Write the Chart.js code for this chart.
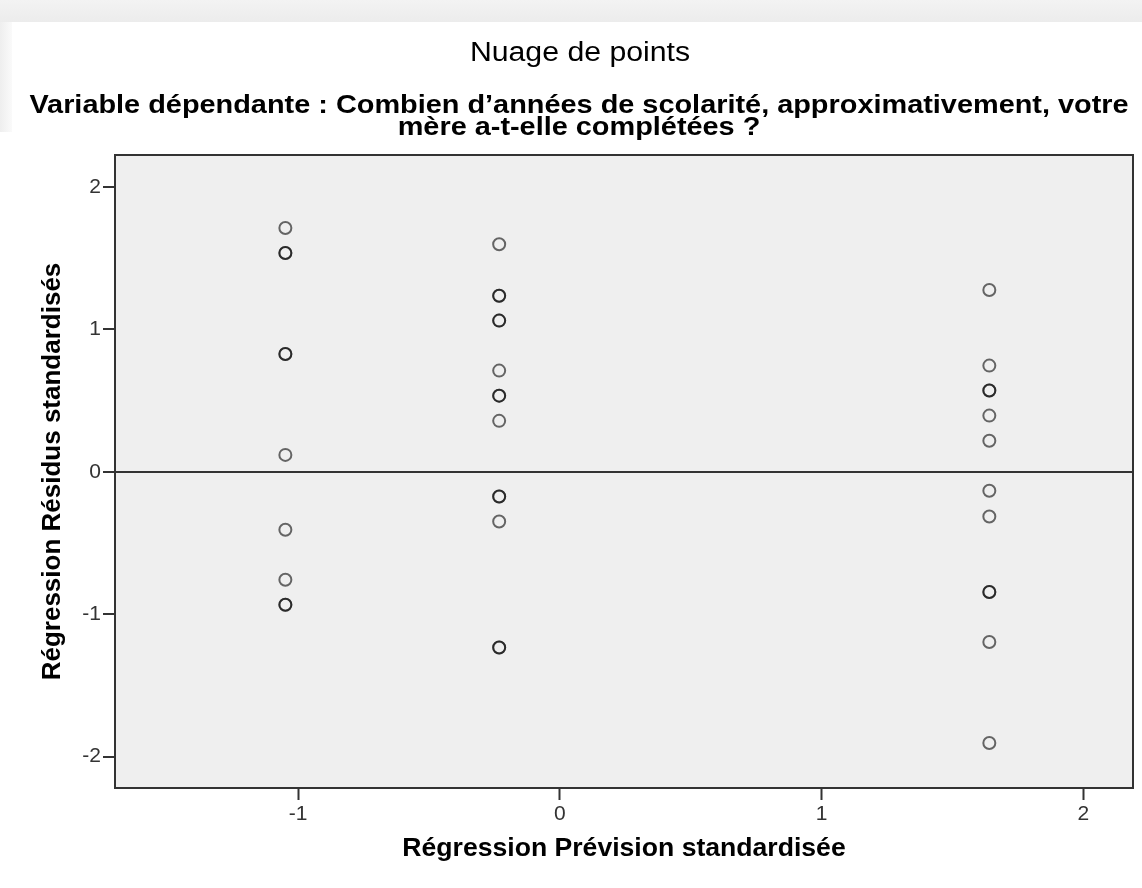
<!DOCTYPE html>
<html lang="fr">
<head>
<meta charset="utf-8">
<title>Nuage de points</title>
<script src="https://cdn.jsdelivr.net/npm/chart.js@4.4.0/dist/chart.umd.min.js"></script>
<style>
  html,body{margin:0;padding:0;background:#fff;}
  #wrap{position:relative;width:1142px;height:888px;}
  #band{position:absolute;left:0;top:0;width:1142px;height:22px;background:linear-gradient(#f3f3f3,#ececec);}
  #side{position:absolute;left:0;top:22px;width:12px;height:110px;background:linear-gradient(90deg,#eeeeee,#fafafa);}
  canvas{position:absolute;left:0;top:0;}
</style>
</head>
<body>
<div id="wrap">
  <div id="band"></div><div id="side"></div>
  <canvas id="scatter" width="1142" height="888"></canvas>
</div>
<script>
/* Nuage de points – résidus standardisés vs prévision standardisée */

/* ---------- Data ---------- */
const predX  = [-1.049, -0.232, 1.641];           // Régression Prévision standardisée (3 groupes)
const residA = [1.712, 1.537, 1.537, 0.828, 0.828, 0.119, -0.407, -0.758, -0.933, -0.933];
const residB = [1.598, 1.237, 1.237, 1.062, 1.062, 0.711, 0.535, 0.535, 0.358, -0.173, -0.173, -0.349, -1.233, -1.233];
const residC = [1.277, 0.746, 0.571, 0.571, 0.395, 0.218, -0.133, -0.314, -0.844, -0.844, -1.195, -1.904];
const xTicks = [-1, 0, 1, 2];
const yTicks = [-2, -1, 0, 1, 2];

const titleText = 'Nuage de points';
const subLines  = ['Variable dépendante : Combien d\u2019années de scolarité, approximativement, votre',
                   'mère a-t-elle complétées ?'];
const xTitle = 'Régression Prévision standardisée';
const yTitle = 'Régression Résidus standardisés';

/* ---------- Helpers ---------- */
const FONT = '"Liberation Sans", Arial, sans-serif';
const points = [];
[residA, residB, residC].forEach((col,i)=> col.forEach(v=> points.push({x:predX[i], y:v})));

function stretchText(c, txt, x, y, font, sx){
  c.save();
  c.font = font;
  c.translate(x, y);
  c.scale(sx, 1);
  c.fillText(txt, 0, 0);
  c.restore();
}

/* ---------- Plugins ---------- */
const frame = {
  id:'frame',
  beforeDraw(chart){
    const {ctx, chartArea:a} = chart;
    ctx.save();
    ctx.fillStyle = '#efefef';
    ctx.fillRect(a.left, a.top, a.right-a.left, a.bottom-a.top);
    ctx.restore();
  },
  afterDraw(chart){
    const {ctx, chartArea:a} = chart;
    ctx.save();
    ctx.strokeStyle = '#333';
    ctx.lineWidth = 2;
    ctx.strokeRect(a.left, a.top, a.right-a.left, a.bottom-a.top);
    // titres (léger étirement horizontal comme l'export SPSS)
    ctx.fillStyle = '#000';
    ctx.textAlign = 'center';
    ctx.textBaseline = 'alphabetic';
    stretchText(ctx, titleText, 580, 61, '27px '+FONT, 1.12);
    stretchText(ctx, subLines[0], 579, 113, 'bold 25px '+FONT, 1.155);
    stretchText(ctx, subLines[1], 579, 135, 'bold 25px '+FONT, 1.155);
    ctx.restore();
  }
};

/* ---------- Render Chart ---------- */
new Chart(document.getElementById('scatter'), {
  type:'scatter',
  data:{
    datasets:[{
      data: points,
      pointRadius:6,
      pointHoverRadius:6,
      borderWidth:2,
      pointBorderWidth:2,
      borderColor:'rgba(0,0,0,0.58)',
      backgroundColor:'rgba(0,0,0,0)'
    }]
  },
  options:{
    responsive:false,
    animation:false,
    layout:{padding:{top:155, right:9, left:0, bottom:0}},
    plugins:{legend:{display:false}, tooltip:{enabled:false}, title:{display:false}},
    scales:{
      x:{
        type:'linear', min:-1.70, max:2.19,
        afterBuildTicks: s=>{ s.ticks = xTicks.map(v=>({value:v})); },
        afterFit: s=>{ s.height = 100; },
        border:{display:false},
        grid:{drawOnChartArea:false, drawTicks:true, tickLength:12, tickColor:'#333', tickWidth:2},
        ticks:{color:'#333', font:{family:FONT, size:21}, padding:2, maxRotation:0},
        title:{display:true, text:xTitle, color:'#000', font:{family:FONT, size:26.6, weight:'bold'}, padding:{top:0, bottom:23}}
      },
      y:{
        type:'linear', min:-2.22, max:2.225,
        afterBuildTicks: s=>{ s.ticks = yTicks.map(v=>({value:v})); },
        afterFit: s=>{ s.width = 115; },
        border:{display:false},
        grid:{
          drawTicks:true, tickLength:12, tickColor:'#333', tickWidth:2,
          color: c=> (c.tick && c.tick.value===0) ? '#333' : 'rgba(0,0,0,0)',
          lineWidth:2
        },
        ticks:{color:'#333', font:{family:FONT, size:21}, padding:2},
        title:{display:true, text:yTitle, color:'#000', font:{family:FONT, size:26, weight:'bold'}, padding:{top:37, bottom:0}}
      }
    }
  },
  plugins:[frame]
});
</script>
</body>
</html>
